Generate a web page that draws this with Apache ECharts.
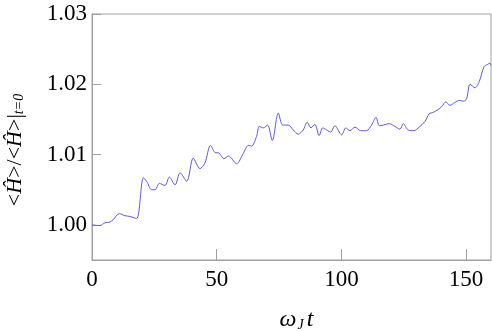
<!DOCTYPE html>
<html>
    <head>
        <meta charset="utf-8">
        <script src="https://cdn.jsdelivr.net/npm/echarts@6/dist/echarts.min.js"></script>
    </head>
    <body style="margin:0;">
        <div id="chart" style="width:492px; height:331px;"></div>
        <script>
            // time axis (omega_J t) and normalised energy
            var tVals = [0, 3.2, 5.2, 7.2, 8.5, 11, 13.2, 15.2, 17.9, 20.6, 21.9, 23.9, 25.3, 27, 29.3, 31, 33.3, 35.3, 38, 40.6,
                43.3, 45.3, 47.5, 49.3, 51, 52.9, 54.7, 58, 60.7, 62.7, 64, 66, 67.1, 68.7, 70.4, 72.3, 74.7, 76.5, 78.7, 80.7,
                82.7, 84.7, 86.3, 87.8, 89.4, 91.1, 92.5, 94.1, 95.7, 97.4, 100.1, 101.8, 103.4, 105.5, 107.7, 110.1, 112.1, 113.9, 115.2, 116.8,
                119.2, 121.5, 123.5, 124.8, 126.8, 129.1, 131.2, 133.5, 135.2, 136.8, 138.8, 140.2, 141.9, 143.5, 145.5, 147.3, 148.9, 150.2, 151.6, 153.6,
                155.3, 157.2, 158.5, 159.6, 160];
            var hVals = [1.0000, 0.9999, 1.0003, 1.0004, 1.00075, 1.0016, 1.0013, 1.0012, 1.0009, 1.0067, 1.0062, 1.0050, 1.0050, 1.0059, 1.0056, 1.0068, 1.0057, 1.0074, 1.0062, 1.0095,
                1.0080, 1.0088, 1.0113, 1.0103, 1.0102, 1.0094, 1.0098, 1.0087, 1.0102, 1.0113, 1.0112, 1.0126, 1.0140, 1.0138, 1.0142, 1.0120, 1.0159, 1.0142, 1.0142, 1.0135,
                1.0129, 1.0135, 1.0146, 1.0138, 1.0143, 1.0127, 1.0138, 1.0135, 1.0132, 1.0141, 1.0128, 1.0138, 1.0134, 1.0139, 1.0134, 1.0134, 1.0142, 1.0153, 1.0141, 1.0142,
                1.0144, 1.0140, 1.0136, 1.0144, 1.0135, 1.0134, 1.0139, 1.0147, 1.0158, 1.0160, 1.0164, 1.0168, 1.0175, 1.0170, 1.0174, 1.0177, 1.0176, 1.0179, 1.0200, 1.0195,
                1.0204, 1.0225, 1.0228, 1.0230, 1.0227];
            var xTicks = [0, 50, 100, 150];
            var yTicks = [1.00, 1.01, 1.02, 1.03];

            var points = [];
            for (var i = 0; i < tVals.length; i++) {
                points.push([tVals[i], hVals[i]]);
            }

            var serif = 'Liberation Serif';
            var chart = echarts.init(document.getElementById('chart'), null, {renderer: 'canvas'});
            chart.setOption({
                animation: false,
                grid: {left: 92, right: 1, top: 14, bottom: 71, show: true, borderColor: '#a0a0a0', borderWidth: 1,
                    containLabel: false, outerBoundsMode: 'none'},
                xAxis: {
                    type: 'value', min: 0, max: 160,
                    axisLine: {lineStyle: {color: '#a0a0a0'}},
                    axisTick: {inside: true, length: 11, customValues: xTicks, lineStyle: {color: '#a0a0a0'}},
                    axisLabel: {customValues: xTicks, color: '#000', fontFamily: serif, fontSize: 23, margin: 8},
                    splitLine: {show: false},
                    name: '{w|ω}{s|J}{w|t}',
                    nameLocation: 'middle', nameGap: 48,
                    nameTextStyle: {
                        padding: [0, 0, 0, 10],
                        rich: {
                            w: {fontFamily: serif, fontStyle: 'italic', fontSize: 24, color: '#000'},
                            s: {fontFamily: serif, fontStyle: 'italic', fontSize: 14, color: '#000', padding: [10, 3, 0, 1]}
                        }
                    }
                },
                yAxis: {
                    type: 'value', min: 0.995, max: 1.03,
                    axisLine: {show: true, lineStyle: {color: '#a0a0a0'}},
                    axisTick: {show: true, inside: true, length: 9, customValues: yTicks, lineStyle: {color: '#a0a0a0'}},
                    axisLabel: {
                        customValues: yTicks, color: '#000', fontFamily: serif, fontSize: 23, margin: 5,
                        formatter: function (v) { return v.toFixed(2); }
                    },
                    splitLine: {show: false},
                    name: '{n|<}{i|Ĥ}{n|>/<}{i|Ĥ}{n|>|}{s|t=0}',
                    nameLocation: 'middle', nameGap: 66, nameRotate: 90,
                    nameTextStyle: {
                        padding: [0, 26, 0, 0],
                        rich: {
                            n: {fontFamily: serif, fontSize: 22, color: '#000'},
                            i: {fontFamily: serif, fontStyle: 'italic', fontSize: 22, color: '#000'},
                            s: {fontFamily: serif, fontStyle: 'italic', fontSize: 14, color: '#000', padding: [8, 0, 0, 0]}
                        }
                    }
                },
                series: [{
                    type: 'line',
                    data: points,
                    smooth: 0.3,
                    showSymbol: false,
                    lineStyle: {color: '#5a5ad2', width: 1}
                }]
            });
        </script>
    </body>
</html>
